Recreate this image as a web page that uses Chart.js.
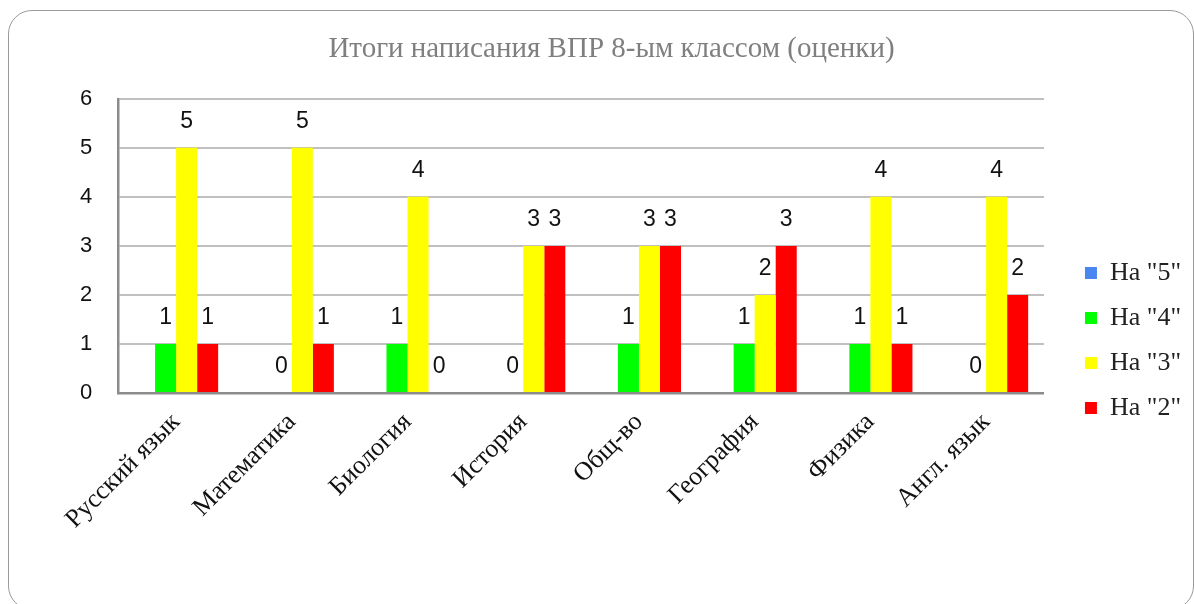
<!DOCTYPE html>
<html>
<head>
<meta charset="utf-8">
<script src="https://cdn.jsdelivr.net/npm/chart.js@4/dist/chart.umd.min.js"></script>
<style>
  html, body { margin: 0; padding: 0; background: #fff; width: 1194px; height: 604px; overflow: hidden; }
  .card {
    position: absolute; left: 8px; top: 10px;
    width: 1186px; height: 600px;
    border: 1.5px solid #9a9a9a; border-radius: 24px;
    box-sizing: border-box; background: #fff;
  }
  .card canvas { position: absolute; left: 0; top: 0; }
</style>
</head>
<body>
<div class="card"><canvas id="vprChart"></canvas></div>
<script>
// data
const subjects = ['Русский язык', 'Математика', 'Биология', 'История', 'Общ-во', 'География', 'Физика', 'Англ. язык'];
const grade5 = [null, null, null, null, null, null, null, null];
const grade4 = [1, 0, 1, 0, 1, 1, 1, 0];
const grade3 = [5, 5, 4, 3, 3, 2, 4, 4];
const grade2 = [1, 1, 0, 3, 3, 3, 1, 2];

const serif = '"Liberation Serif", "Times New Roman", serif';
const sans = '"Liberation Sans", Arial, sans-serif';

// value labels above bars
const valueLabels = {
    id: 'valueLabels',
    afterDatasetsDraw(chart) {
        const ctx = chart.ctx;
        ctx.save();
        ctx.font = '23px ' + sans;
        ctx.fillStyle = '#111';
        ctx.textAlign = 'center';
        ctx.textBaseline = 'middle';
        chart.data.datasets.forEach(function(ds, i) {
            const meta = chart.getDatasetMeta(i);
            meta.data.forEach(function(bar, j) {
                const v = ds.data[j];
                if (v === null || v === undefined) return;
                ctx.fillText(String(v), bar.x, bar.y - 26);
            });
        });
        ctx.restore();
    }
};

// move the legend a bit right and down
const legendOffset = {
    id: 'legendOffset',
    afterLayout(chart) {
        const lg = chart.legend;
        if (!lg) return;
        lg.left += 22; lg.right += 22;
        lg.top += 50; lg.bottom += 50;
    }
};

const chartData = {
    labels: subjects,
    datasets: [{
        label: 'На "5"',
        data: grade5,
        backgroundColor: '#4a86ef'
    }, {
        label: 'На "4"',
        data: grade4,
        backgroundColor: '#00ff00'
    }, {
        label: 'На "3"',
        data: grade3,
        backgroundColor: '#ffff00'
    }, {
        label: 'На "2"',
        data: grade2,
        backgroundColor: '#ff0000'
    }]
};

const config = {
    type: 'bar',
    data: chartData,
    options: {
        responsive: true,
        maintainAspectRatio: false,
        animation: false,
        datasets: {
            bar: { categoryPercentage: 0.727, barPercentage: 1.0 }
        },
        layout: {
            padding: { top: 21, right: 24, bottom: 60, left: 45 }
        },
        plugins: {
            title: {
                display: true,
                text: 'Итоги написания ВПР 8-ым классом (оценки)',
                color: '#7f7f7f',
                font: { family: serif, size: 29, weight: 'normal' },
                padding: { top: 0, bottom: 32 }
            },
            legend: {
                position: 'right',
                labels: {
                    color: '#222',
                    font: { family: serif, size: 26 },
                    boxWidth: 12,
                    boxHeight: 12,
                    padding: 19
                }
            },
            tooltip: { enabled: false }
        },
        scales: {
            x: {
                grid: { display: false, drawTicks: false },
                border: { display: true, color: '#8c8c8c', width: 2.5 },
                ticks: {
                    color: '#111',
                    font: { family: serif, size: 26 },
                    minRotation: 45,
                    maxRotation: 45,
                    padding: 14
                }
            },
            y: {
                min: 0,
                max: 6,
                grid: { color: '#c0c0c0', lineWidth: 2, drawTicks: false },
                border: { display: true, color: '#8c8c8c', width: 2.5 },
                ticks: {
                    stepSize: 1,
                    color: '#111',
                    font: { family: sans, size: 22 },
                    padding: 26
                }
            }
        }
    },
    plugins: [valueLabels, legendOffset]
};

const vprChart = new Chart(
    document.getElementById('vprChart'),
    config
);
</script>
</body>
</html>
